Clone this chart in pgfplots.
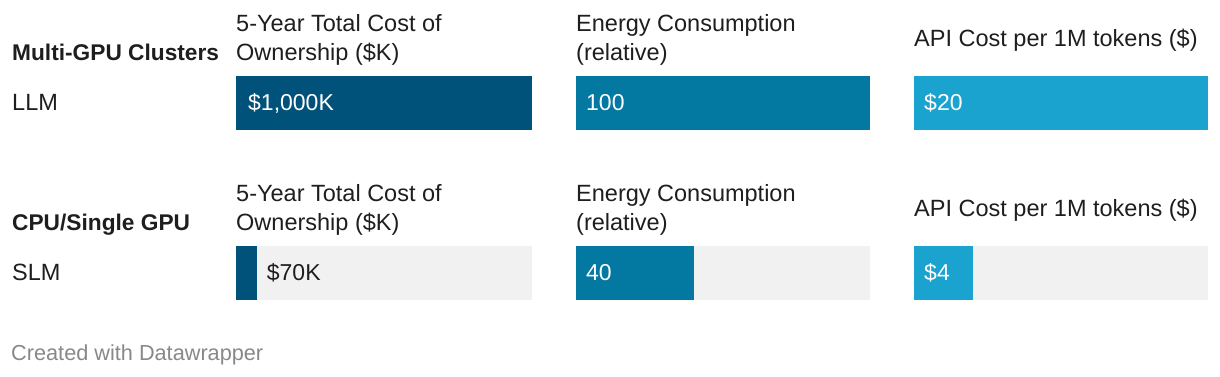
\documentclass[border=0pt]{standalone}
\usepackage{pgfplots}
\pgfplotsset{compat=1.18}
\usepackage{fontspec}
\setmainfont{Liberation Sans}
\definecolor{cA}{RGB}{0,82,122}
\definecolor{cB}{RGB}{3,120,161}
\definecolor{cC}{RGB}{27,163,207}
\definecolor{bg}{RGB}{241,241,241}
\definecolor{txt}{RGB}{30,30,30}
\definecolor{credit}{RGB}{136,136,136}
\pgfplotsset{panel/.style={anchor=north west, scale only axis, width=#1, height=54pt,
  hide axis, ymin=-0.5, ymax=0.5, xmin=0, xbar, bar width=54pt, bar shift=0pt, clip=false}}
\newcommand\fs{\fontsize{23.5}{27}\selectfont}
\newcommand\fb{\fontsize{22.7}{27}\selectfont\bfseries}
\newcommand\fv{\fontsize{23}{27}\selectfont}
\begin{document}
\begin{tikzpicture}[x=1pt,y=-1pt,every node/.style={inner sep=0pt,text=txt,font=\fs}]
\path (0,0) rectangle (1220,376);
% row labels
\node[anchor=base west,font=\fb] at (12,60) {Multi-GPU Clusters};
\node[anchor=base west] at (12,110) {LLM};
\node[anchor=base west,font=\fb] at (12,230) {CPU/Single GPU};
\node[anchor=base west] at (12,280) {SLM};
% titles row 1
\node[anchor=base west] at (236,31) {5-Year Total Cost of};
\node[anchor=base west] at (236,60) {Ownership (\$K)};
\node[anchor=base west] at (576,31) {Energy Consumption};
\node[anchor=base west] at (576,60) {(relative)};
\node[anchor=base west] at (914,46) {API Cost per 1M tokens (\$)};
% titles row 2
\node[anchor=base west] at (236,201) {5-Year Total Cost of};
\node[anchor=base west] at (236,230) {Ownership (\$K)};
\node[anchor=base west] at (576,201) {Energy Consumption};
\node[anchor=base west] at (576,230) {(relative)};
\node[anchor=base west] at (914,216) {API Cost per 1M tokens (\$)};
\node[anchor=base west,text=credit,font=\fontsize{21.7}{24}\selectfont] at (11,360) {Created with Datawrapper};
% row 1
\begin{axis}[panel=296pt, at={(236pt,-76pt)}, xmax=1000]
\addplot[fill=bg, draw=none] coordinates {(1000,0)};
\addplot[fill=cA, draw=none] coordinates {(1000,0)};
\node[anchor=west,text=white,font=\fv] at (axis cs:0,0) {\hspace{12pt}\$1,000K};
\end{axis}
\begin{axis}[panel=294pt, at={(576pt,-76pt)}, xmax=100]
\addplot[fill=bg, draw=none] coordinates {(100,0)};
\addplot[fill=cB, draw=none] coordinates {(100,0)};
\node[anchor=west,text=white,font=\fv] at (axis cs:0,0) {\hspace{10pt}100};
\end{axis}
\begin{axis}[panel=294pt, at={(914pt,-76pt)}, xmax=20]
\addplot[fill=bg, draw=none] coordinates {(20,0)};
\addplot[fill=cC, draw=none] coordinates {(20,0)};
\node[anchor=west,text=white,font=\fv] at (axis cs:0,0) {\hspace{10pt}\$20};
\end{axis}
% row 2
\begin{axis}[panel=296pt, at={(236pt,-246pt)}, xmax=1000]
\addplot[fill=bg, draw=none] coordinates {(1000,0)};
\addplot[fill=cA, draw=none] coordinates {(70,0)};
\node[anchor=west,text=txt,font=\fv] at (axis cs:70,0) {\hspace{10pt}\$70K};
\end{axis}
\begin{axis}[panel=294pt, at={(576pt,-246pt)}, xmax=100]
\addplot[fill=bg, draw=none] coordinates {(100,0)};
\addplot[fill=cB, draw=none] coordinates {(40,0)};
\node[anchor=west,text=white,font=\fv] at (axis cs:0,0) {\hspace{10pt}40};
\end{axis}
\begin{axis}[panel=294pt, at={(914pt,-246pt)}, xmax=20]
\addplot[fill=bg, draw=none] coordinates {(20,0)};
\addplot[fill=cC, draw=none] coordinates {(4,0)};
\node[anchor=west,text=white,font=\fv] at (axis cs:0,0) {\hspace{10pt}\$4};
\end{axis}
\end{tikzpicture}
\end{document}
